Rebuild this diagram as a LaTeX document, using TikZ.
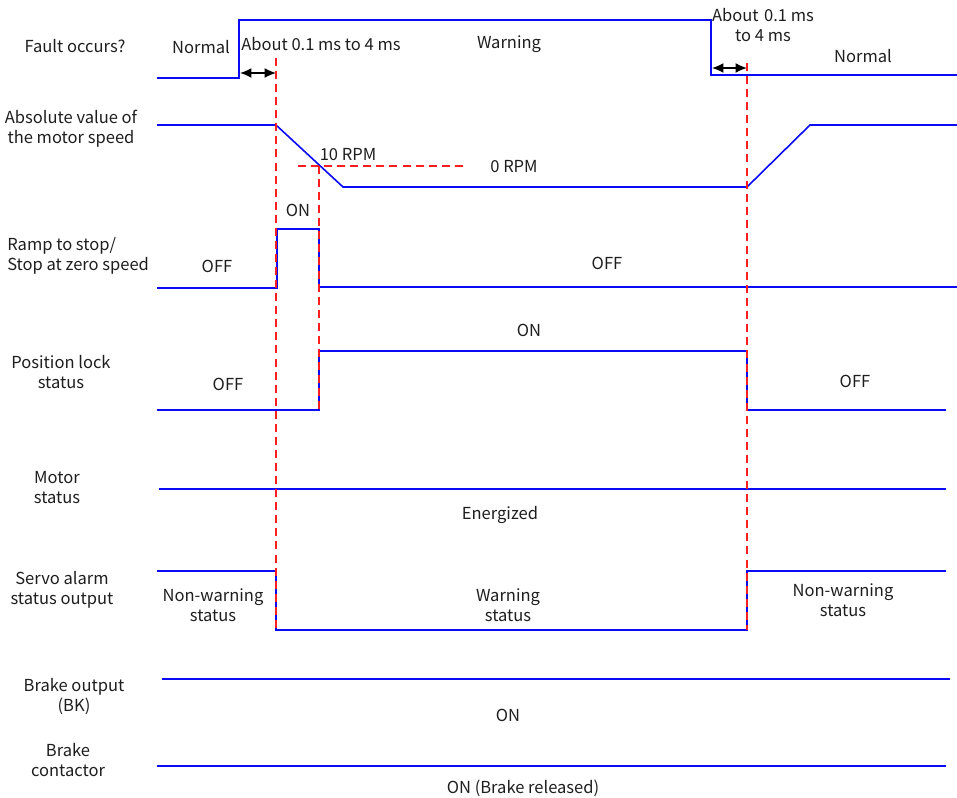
\documentclass[tikz,border=0pt]{standalone}
\usepackage{fontspec}
\setmainfont{Noto Sans CJK SC}
\usetikzlibrary{arrows.meta}
\definecolor{sigblue}{RGB}{10,10,245}
\definecolor{markred}{RGB}{250,30,30}
\definecolor{txtgray}{RGB}{30,30,30}
\tikzset{
    signal/.style={
        draw=sigblue,line width=1.2pt,line join=miter
    },
    marker/.style={
        draw=markred,line width=1.1pt,dash pattern=on 6pt off 3.8pt
    },
    lbl/.style={
        align=center,text=txtgray,inner sep=0pt,
        font=\fontsize{12.4}{15}\selectfont
    },
    span/.style={
        {Latex[length=3mm,width=2.6mm]}-{Latex[length=3mm,width=2.6mm]},
        line width=1pt,draw=black
    }
}

\begin{document}
\begin{tikzpicture}[x=0.75pt,y=-0.75pt]
\useasboundingbox (0,0) rectangle (957,798);

% row titles
\node[lbl](tFault) at (75,46) {Fault occurs?};
\node[lbl](tSpeed) at (71,129) {Absolute value of\\the motor speed};
\node[lbl,align=left,anchor=west](tRamp) at (7,256) {Ramp to stop/\\Stop at zero speed};
\node[lbl](tLock) at (61,372) {Position lock\\status};
\node[lbl](tMotor) at (57,488) {Motor\\status};
\node[lbl](tAlarm) at (62,590) {Servo alarm\\status output};
\node[lbl](tBK) at (74,697) {Brake output\\(BK)};
\node[lbl](tBrake) at (68,760) {Brake\\contactor};

% fault occurs?
\draw[signal] (157,78) -- (239,78) -- (239,20) -- (711,20) -- (711,75) -- (957,75);
\node[lbl](fNormal) at (201,47) {Normal};
\node[lbl,anchor=west](fDelay) at (241,44) {About 0.1 ms to 4 ms};
\node[lbl](fWarn) at (509,44) {Warning};
\node[lbl](fDelay2) at (763,25) {About\,\,0.1 ms\\to 4 ms};
\node[lbl](fNormal2) at (863,56) {Normal};
\coordinate (a1) at (240,73);
\coordinate (a2) at (276,73);
\coordinate (a3) at (712,68);
\coordinate (a4) at (747,68);
\draw[span] (a1) -- (a2);
\draw[span] (a3) -- (a4);

% motor speed
\draw[signal] (157,125) -- (276,125) -- (343,187) -- (747,187) -- (810,125) -- (957,125);
\node[lbl](s10) at (348,155) {10 RPM};
\node[lbl](s0) at (514,167) {0 RPM};

% ramp to stop
\draw[signal] (157,288) -- (277,288) -- (277,229) -- (319,229) -- (319,287) -- (957,287);
\node[lbl](rOff) at (217,266) {OFF};
\node[lbl](rOn) at (298,210) {ON};
\node[lbl](rOff2) at (607,263) {OFF};

% position lock
\draw[signal] (157,410) -- (319,410) -- (319,351) -- (747,351) -- (747,410) -- (946,410);
\node[lbl](pOff) at (228,384) {OFF};
\node[lbl](pOn) at (529,330) {ON};
\node[lbl](pOff2) at (855,381) {OFF};

% motor status
\draw[signal] (159,489) -- (946,489);
\node[lbl](mOn) at (500,515) {Energized};

% servo alarm
\draw[signal] (157,571) -- (276,571) -- (276,630) -- (747,630) -- (747,571) -- (946,571);
\node[lbl](aNon) at (213,605) {Non-warning\\status};
\node[lbl](aWarn) at (508,605) {Warning\\status};
\node[lbl](aNon2) at (843,600) {Non-warning\\status};

% brake output, brake contactor
\draw[signal] (162,679) -- (950,679);
\node[lbl](bkOn) at (508,715) {ON};
\draw[signal] (157,766) -- (946,766);
\node[lbl](brOn) at (523,788) {ON (Brake released)};

% timing markers
\draw[marker] (276,58) -- (276,630);
\draw[marker] (747,63) -- (747,630);
\draw[marker] (319,166) -- (319,410);
\draw[marker] (298,166) -- (466,166);

\end{tikzpicture}
\end{document}
